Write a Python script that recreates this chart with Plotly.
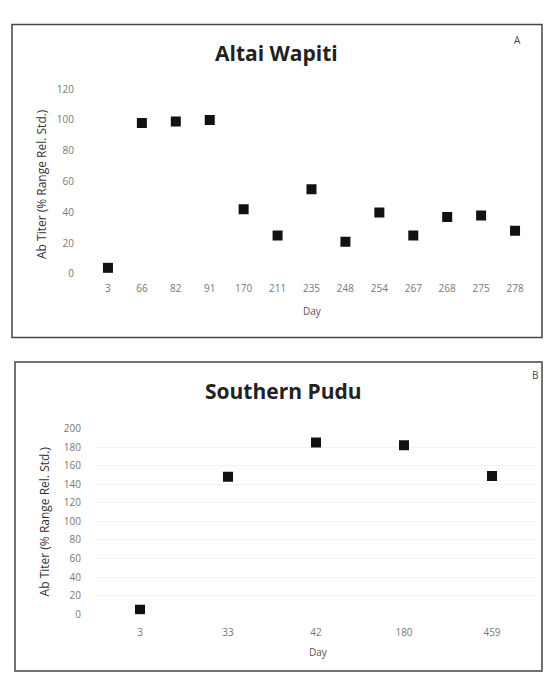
import plotly.graph_objects as go

# Data
wapiti_days = ["3", "66", "82", "91", "170", "211", "235", "248", "254", "267", "268", "275", "278"]
wapiti_titer = [4, 98, 99, 100, 42, 25, 55, 21, 40, 25, 37, 38, 28]
pudu_days = ["3", "33", "42", "180", "459"]
pudu_titer = [5, 148, 185, 182, 149]
wapiti_yticks = [0, 20, 40, 60, 80, 100, 120]
pudu_yticks = [0, 20, 40, 60, 80, 100, 120, 140, 160, 180, 200]

W, H = 544, 679
FONT = "Open Sans"

def px(x):
    return x / W

def py(y):
    return (H - y) / H

fig = go.Figure()
fig.add_trace(go.Scatter(x=wapiti_days, y=wapiti_titer, mode="markers",
                         marker=dict(symbol="square", size=10, color="#111111"),
                         xaxis="x", yaxis="y", showlegend=False))
fig.add_trace(go.Scatter(x=pudu_days, y=pudu_titer, mode="markers",
                         marker=dict(symbol="square", size=10, color="#111111"),
                         xaxis="x2", yaxis="y2", showlegend=False))

tickfont = dict(family=FONT, size=10, color="#777777")
fig.update_layout(
    width=W, height=H,
    margin=dict(l=0, r=0, t=0, b=0),
    paper_bgcolor="white", plot_bgcolor="white",
    xaxis=dict(domain=[px(91), px(532)], anchor="y", type="category",
               range=[-0.5, len(wapiti_days) - 0.5],
               showgrid=False, showline=False, zeroline=False,
               ticks="outside", ticklen=5, tickcolor="rgba(0,0,0,0)",
               tickfont=tickfont),
    yaxis=dict(domain=[py(272), py(83)], anchor="x", range=[0, 120],
               tickvals=wapiti_yticks, showgrid=False, zeroline=False,
               showline=False, ticks="outside", ticklen=14, tickcolor="rgba(0,0,0,0)",
               tickfont=tickfont),
    xaxis2=dict(domain=[px(96), px(536)], anchor="y2", type="category",
                range=[-0.5, len(pudu_days) - 0.5],
                showgrid=False, showline=False, zeroline=False,
                ticks="outside", ticklen=9, tickcolor="rgba(0,0,0,0)",
                tickfont=tickfont),
    yaxis2=dict(domain=[py(620), py(430)], anchor="x2", range=[0, 200],
                tickvals=pudu_yticks, showgrid=True, gridcolor="#f3f3f3",
                zeroline=False, showline=False, ticks="outside", ticklen=12,
                tickcolor="rgba(0,0,0,0)", tickfont=tickfont),
)

shapes = [
    dict(type="rect", xref="paper", yref="paper", x0=px(12), x1=px(542), y0=py(337), y1=py(17),
         line=dict(color="#444444", width=1.5)),
    dict(type="rect", xref="paper", yref="paper", x0=px(15), x1=px(542), y0=py(678), y1=py(362),
         line=dict(color="#444444", width=1.5)),
]
fig.update_layout(shapes=shapes)

ann = [
    dict(text="<b>Altai Wapiti</b>", x=px(276), y=py(46), font=dict(family=FONT, size=21, color="#222222")),
    dict(text="A", x=px(517), y=py(33), font=dict(family=FONT, size=10, color="#444444")),
    dict(text="Day", x=px(312), y=py(310), font=dict(family=FONT, size=10, color="#555555")),
    dict(text="Ab Titer (% Range Rel. Std.)", x=px(41), y=py(180), textangle=-90,
         font=dict(family=FONT, size=12, color="#333333")),
    dict(text="<b>Southern Pudu</b>", x=px(283), y=py(392), font=dict(family=FONT, size=21, color="#222222")),
    dict(text="B", x=px(535), y=py(375), font=dict(family=FONT, size=10, color="#444444")),
    dict(text="Day", x=px(318), y=py(659), font=dict(family=FONT, size=10, color="#555555")),
    dict(text="Ab Titer (% Range Rel. Std.)", x=px(44), y=py(525), textangle=-90,
         font=dict(family=FONT, size=12, color="#333333")),
]
for a in ann:
    a.update(xref="paper", yref="paper", showarrow=False, xanchor="center", yanchor="middle")
fig.update_layout(annotations=ann)

fig.write_html("out.html",
               config={"displayModeBar": False},
               post_script="document.body.style.margin='0';document.body.style.overflow='hidden';")
